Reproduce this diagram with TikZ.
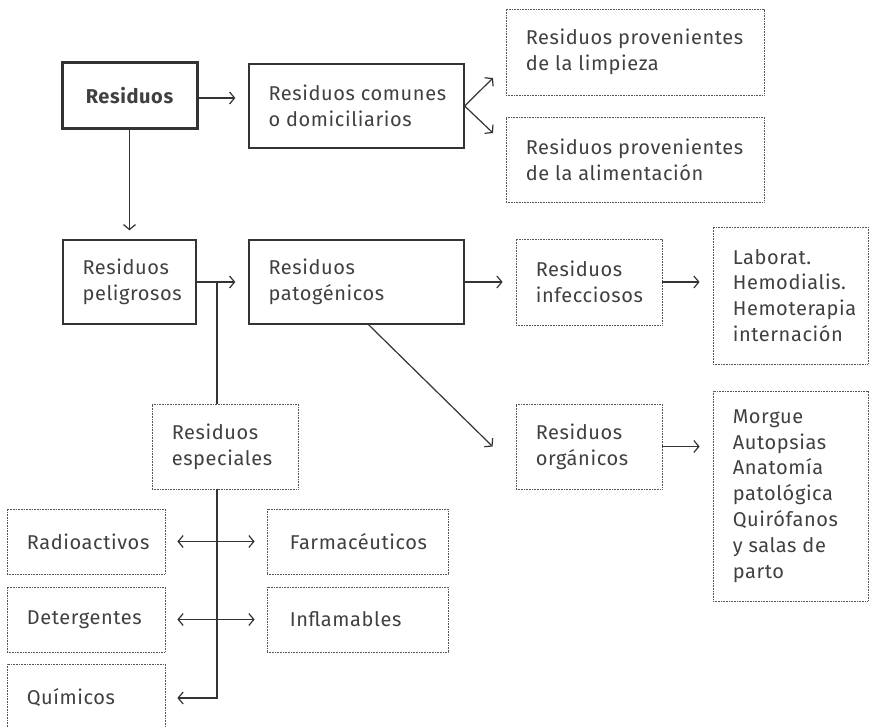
\documentclass[tikz,border=0pt]{standalone}
\usepackage{fontspec}
\setmainfont{Fira Sans}[LetterSpace=3]
\usetikzlibrary{arrows.meta,calc}
\definecolor{txtc}{HTML}{404040}
\definecolor{linec}{HTML}{333333}
\definecolor{dotc}{HTML}{555555}
\tikzset{
  solidbox/.style={draw=linec, line width=1.3pt, rectangle, inner sep=0pt},
  thickbox/.style={draw=linec, line width=3pt, rectangle, inner sep=0pt},
  dotbox/.style={draw=dotc, line width=0.8pt, dash pattern=on 0.8pt off 0.8pt, rectangle, inner sep=0pt},
  txt/.style={inner sep=0pt, align=left, anchor=west, text=txtc, font=\fontsize{20}{25.8}\selectfont},
  conn/.style={draw=linec, line width=1.2pt},
  arr/.style={conn, -{Straight Barb[length=5pt,width=12pt,line width=1.2pt]}},
  darr/.style={conn, {Straight Barb[length=5pt,width=12pt,line width=1.2pt]}-{Straight Barb[length=5pt,width=12pt,line width=1.2pt]}},
}
\begin{document}
\begin{tikzpicture}[x=1pt,y=-1pt]
\useasboundingbox (0,0) rectangle (870,727);
\clip (0,0) rectangle (870,727);
% boxes
\node[thickbox, minimum width=135pt, minimum height=66pt, font=\fontsize{20}{25}\selectfont\bfseries, text=txtc] (res) at (129.5,96) {Residuos};
\node[solidbox, minimum width=215pt, minimum height=84pt] (com) at (356.5,106) {};
\node[dotbox, minimum width=258pt, minimum height=86pt] (limp) at (635,52) {};
\node[dotbox, minimum width=258pt, minimum height=85pt] (alim) at (635,159.5) {};
\node[solidbox, minimum width=133pt, minimum height=84pt] (pel) at (129.5,282) {};
\node[solidbox, minimum width=215pt, minimum height=84pt] (pat) at (356.5,282) {};
\node[dotbox, minimum width=146pt, minimum height=85pt] (esp) at (225,446.5) {};
\node[dotbox, minimum width=158pt, minimum height=65pt] (radio) at (86,541.5) {};
\node[dotbox, minimum width=158pt, minimum height=65pt] (det) at (86,619.5) {};
\node[dotbox, minimum width=158pt, minimum height=68pt] (quim) at (86,698) {};
\node[dotbox, minimum width=181pt, minimum height=65pt] (farm) at (357.5,541.5) {};
\node[dotbox, minimum width=181pt, minimum height=65pt] (infl) at (357.5,619.5) {};
\node[dotbox, minimum width=146pt, minimum height=86pt] (inf) at (589,282) {};
\node[dotbox, minimum width=146pt, minimum height=85pt] (org) at (589,446.5) {};
\node[dotbox, minimum width=155pt, minimum height=137pt] (lab) at (790.5,295.5) {};
\node[dotbox, minimum width=155pt, minimum height=210pt] (morg) at (790.5,496) {};
% texts
\node[txt] (comT) at ([xshift=20pt]com.west) {Residuos comunes\\o domiciliarios};
\node[txt] (limpT) at ([xshift=20pt]limp.west) {Residuos provenientes\\de la limpieza};
\node[txt] (alimT) at ([xshift=20pt]alim.west) {Residuos provenientes\\de la alimentación};
\node[txt] (pelT) at ([xshift=20pt]pel.west) {Residuos\\peligrosos};
\node[txt] (patT) at ([xshift=20pt]pat.west) {Residuos\\patogénicos};
\node[txt] (espT) at ([xshift=20pt]esp.west) {Residuos\\especiales};
\node[txt] (radioT) at ([xshift=20pt]radio.west) {Radioactivos};
\node[txt] (detT) at ([xshift=20pt]det.west) {Detergentes};
\node[txt] (quimT) at ([xshift=20pt]quim.west) {Químicos};
\node[txt] (farmT) at ([xshift=23pt]farm.west) {Farmacéuticos};
\node[txt] (inflT) at ([xshift=23pt]infl.west) {Inflamables};
\node[txt] (infT) at ([xshift=20pt]inf.west) {Residuos\\infecciosos};
\node[txt] (orgT) at ([xshift=20pt]org.west) {Residuos\\orgánicos};
\node[txt] (labT) at ([xshift=20pt]lab.west) {Laborat.\\Hemodialis.\\Hemoterapia\\internación};
\node[txt] (morgT) at ([xshift=20pt]morg.west) {Morgue\\Autopsias\\Anatomía\\patológica\\Quirófanos\\y salas de\\parto};
% helper coordinates
\coordinate (c1) at (493,78);
\coordinate (c2) at (493,133);
\coordinate (j1) at (217,282);
\coordinate (d0) at ([xshift=12pt]pat.south);
% connectors
\draw[arr, shorten >=13pt] (res.east |- 0,98) -- (com.west |- 0,98);
\draw[arr] (com.east) -- (c1);
\draw[arr] (com.east) -- (c2);
\draw[arr, shorten >=9pt] (res.south) -- (pel.north);
\draw[arr, shorten >=13pt] (pel.east) -- (pat.west);
\draw[conn] (j1) -- (j1 |- esp.north);
\draw[arr, shorten >=12pt] (j1 |- esp.south) |- (quim.east);
\draw[darr, shorten >=12pt, shorten <=12pt] (radio.east) -- (farm.west);
\draw[darr, shorten >=12pt, shorten <=12pt] (det.east) -- (infl.west);
\draw[arr, shorten >=13pt] (pat.east) -- (inf.west);
\draw[arr] (d0) -- ([xshift=-23pt]org.west);
\draw[arr, shorten >=13pt] (inf.east) -- (inf.east -| lab.west);
\draw[arr, shorten >=13pt] (org.east) -- (org.east -| morg.west);
\end{tikzpicture}
\end{document}
